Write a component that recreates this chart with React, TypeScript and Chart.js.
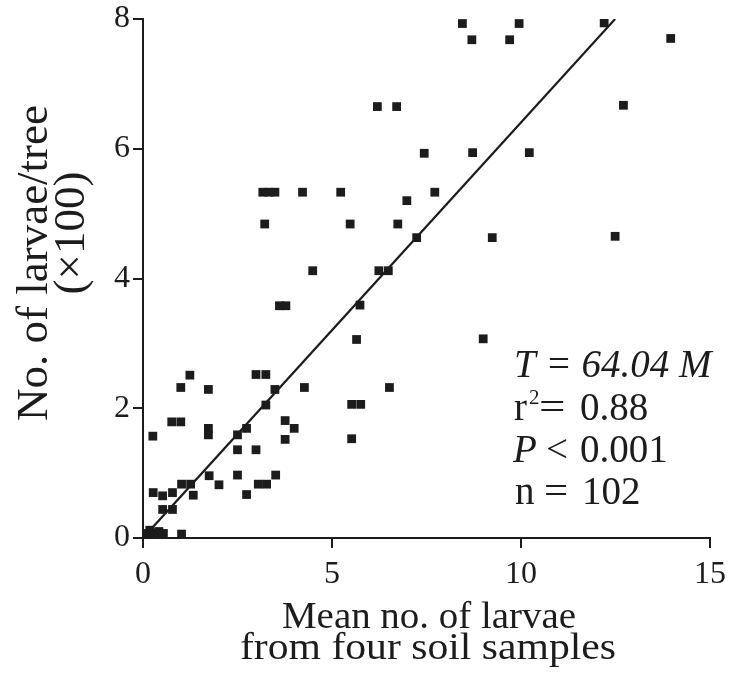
import React, { useEffect, useRef } from "react";
import { Chart, registerables } from "chart.js";

Chart.register(...registerables);

// Mean no. of larvae from four soil samples (x)
const soilMean = [
  8.45, 9.95, 12.2, 8.7, 9.7, 13.96, 6.2, 6.71, 12.71, 7.44, 8.72, 10.22,
  3.17, 3.33, 3.49, 4.22, 5.23, 7.72, 6.98, 3.22, 5.48, 6.74, 7.24, 9.24,
  12.49, 4.49, 6.24, 6.49, 3.61, 3.78, 5.74, 5.65, 9.0,
  1.24, 2.99, 3.25, 1.0, 1.73, 3.49, 4.27, 6.52, 3.25, 5.52, 5.76, 0.76,
  1.0, 0.26, 1.73, 1.73, 3.76, 4.0, 3.76, 5.52, 2.74, 2.5, 2.5, 2.99, 1.75,
  2.5, 3.51, 2.01, 3.05, 3.27, 2.74, 1.02, 1.26, 1.33, 0.27, 0.52, 0.78,
  0.52, 0.78, 0.1, 0.27, 0.54, 1.02, 0.05, 0.18, 0.35, 0.42,
];
// No. of larvae per tree (x100) (y)
const larvaePerTree = [
  7.93, 7.93, 7.94, 7.68, 7.68, 7.7, 6.65, 6.65, 6.67, 5.93, 5.94, 5.94,
  5.33, 5.33, 5.33, 5.33, 5.33, 5.33, 5.2, 4.84, 4.84, 4.84, 4.63, 4.63,
  4.65, 4.12, 4.12, 4.12, 3.58, 3.58, 3.59, 3.06, 3.07,
  2.51, 2.52, 2.52, 2.32, 2.29, 2.29, 2.32, 2.32, 2.05, 2.06, 2.06, 1.79,
  1.79, 1.57, 1.69, 1.59, 1.81, 1.69, 1.52, 1.53, 1.69, 1.59, 1.36, 1.36, 0.96,
  0.97, 0.97, 0.82, 0.83, 0.83, 0.67, 0.83, 0.83, 0.66, 0.7, 0.65, 0.7,
  0.44, 0.44, 0.07, 0.08, 0.07, 0.06, 0.03, 0.12, 0.05, 0.1,
];
// Regression line T = 64.04 M (end points)
const fitX = [0, 12.49];
const fitY = [0, 8];

const xTickValues = [0, 5, 10, 15];
const yTickValues = [0, 2, 4, 6, 8];
const yTitleLines = ["No. of larvae/tree", "(\u00d7100)"];
const xTitleLines = ["Mean no. of larvae", "from four soil samples"];
const statT = "T = 64.04 M";
const statR2 = ["r", "2", "=", "0.88"];
const statP = ["P", "<", "0.001"];
const statN = ["n", "=", "102"];

const SERIF = "'Liberation Serif', 'Times New Roman', serif";
const INK = "#1c1c1c";

function stretched(
  ctx: CanvasRenderingContext2D,
  text: string,
  cx: number,
  baseline: number,
  font: string,
  targetWidth: number
) {
  ctx.save();
  ctx.font = font;
  const w = ctx.measureText(text).width;
  const sx = targetWidth / w;
  ctx.translate(cx, baseline);
  ctx.scale(sx, 1);
  ctx.textAlign = "center";
  ctx.textBaseline = "alphabetic";
  ctx.fillText(text, 0, 0);
  ctx.restore();
}

function wideLeft(ctx: CanvasRenderingContext2D, text: string, x: number, y: number, sx: number) {
  ctx.save();
  ctx.translate(x, y);
  ctx.scale(sx, 1);
  ctx.textAlign = "left";
  ctx.fillText(text, 0, 0);
  ctx.restore();
}

const textPlugin = {
  id: "textPlugin",
  afterDraw(chart: any) {
    const ctx = chart.ctx as CanvasRenderingContext2D;
    ctx.save();
    ctx.fillStyle = INK;
    // y title
    ctx.textAlign = "center";
    ctx.textBaseline = "alphabetic";
    ctx.font = `45px ${SERIF}`;
    ctx.save();
    ctx.translate(47, 263);
    ctx.rotate(-Math.PI / 2);
    ctx.fillText(yTitleLines[0], 0, 0);
    ctx.restore();
    ctx.save();
    ctx.translate(84, 233);
    ctx.rotate(-Math.PI / 2);
    ctx.fillText(yTitleLines[1], 0, 0);
    ctx.restore();

    // x title
    stretched(ctx, xTitleLines[0], 429, 628, `37px ${SERIF}`, 294);
    stretched(ctx, xTitleLines[1], 428, 659, `37px ${SERIF}`, 376);

    // stats
    ctx.textAlign = "left";
    ctx.textBaseline = "alphabetic";
    const x0 = 514;
    ctx.font = `italic 39px ${SERIF}`;
    ctx.fillText(statT, x0, 377);

    ctx.font = `39px ${SERIF}`;
    ctx.fillText(statR2[0], x0, 420);
    ctx.font = `21px ${SERIF}`;
    ctx.fillText(statR2[1], 529, 404);
    ctx.font = `39px ${SERIF}`;
    wideLeft(ctx, statR2[2], 539, 420, 1.2);
    ctx.fillText(statR2[3], 580, 420);

    ctx.font = `italic 39px ${SERIF}`;
    ctx.fillText(statP[0], x0 - 1, 462);
    ctx.font = `39px ${SERIF}`;
    ctx.fillText(statP[1], 546, 462);
    ctx.fillText(statP[2], 580, 462);

    ctx.fillText(statN[0], x0 + 1, 504);
    wideLeft(ctx, statN[1], 544, 504, 1.1);
    ctx.fillText(statN[2], 582, 504);
    ctx.restore();
  },
};

export default function App() {
  const ref = useRef<HTMLCanvasElement | null>(null);
  useEffect(() => {
    if (!ref.current) return;
    const scatter = soilMean.map((x, i) => ({ x, y: larvaePerTree[i] }));
    const fit = fitX.map((x, i) => ({ x, y: fitY[i] }));
    const chart = new Chart(ref.current, {
      type: "scatter",
      data: {
        datasets: [
          {
            type: "line",
            data: fit,
            borderColor: INK,
            borderWidth: 2.2,
            pointRadius: 0,
            fill: false,
          },
          {
            data: scatter,
            pointStyle: "rect",
            pointRadius: 6.2,
            pointBackgroundColor: INK,
            pointBorderColor: INK,
            pointBorderWidth: 0,
          },
        ],
      },
      options: {
        animation: false,
        responsive: false,
        layout: { padding: { top: 19, right: 19, left: 0, bottom: 0 } },
        plugins: { legend: { display: false }, tooltip: { enabled: false } },
        scales: {
          x: {
            type: "linear",
            min: 0,
            max: 15,
            afterBuildTicks: (s: any) => {
              s.ticks = xTickValues.map((v) => ({ value: v }));
            },
            afterFit: (s: any) => {
              s.height = 140;
              s.paddingLeft = 0;
              s.paddingRight = 0;
            },
            border: { display: true, color: INK, width: 2 },
            grid: { drawOnChartArea: false, drawTicks: true, tickLength: 10, color: INK, lineWidth: 2 },
            ticks: { color: INK, font: { family: SERIF, size: 32 }, padding: 7, maxRotation: 0 },
          },
          y: {
            type: "linear",
            min: 0,
            max: 8,
            afterBuildTicks: (s: any) => {
              s.ticks = yTickValues.map((v) => ({ value: v }));
            },
            afterFit: (s: any) => {
              s.width = 143;
              s.paddingTop = 0;
              s.paddingBottom = 0;
            },
            border: { display: true, color: INK, width: 2 },
            grid: { drawOnChartArea: false, drawTicks: true, tickLength: 10, color: INK, lineWidth: 2 },
            ticks: { color: INK, font: { family: SERIF, size: 32 }, padding: 3 },
          },
        },
      },
      plugins: [textPlugin],
    } as any);
    return () => chart.destroy();
  }, []);
  return (
    <div style={{ position: "fixed", left: 0, top: 0, width: 729, height: 678, background: "#fff" }}>
      <canvas ref={ref} width={729} height={678} style={{ display: "block", width: 729, height: 678 }} />
    </div>
  );
}
